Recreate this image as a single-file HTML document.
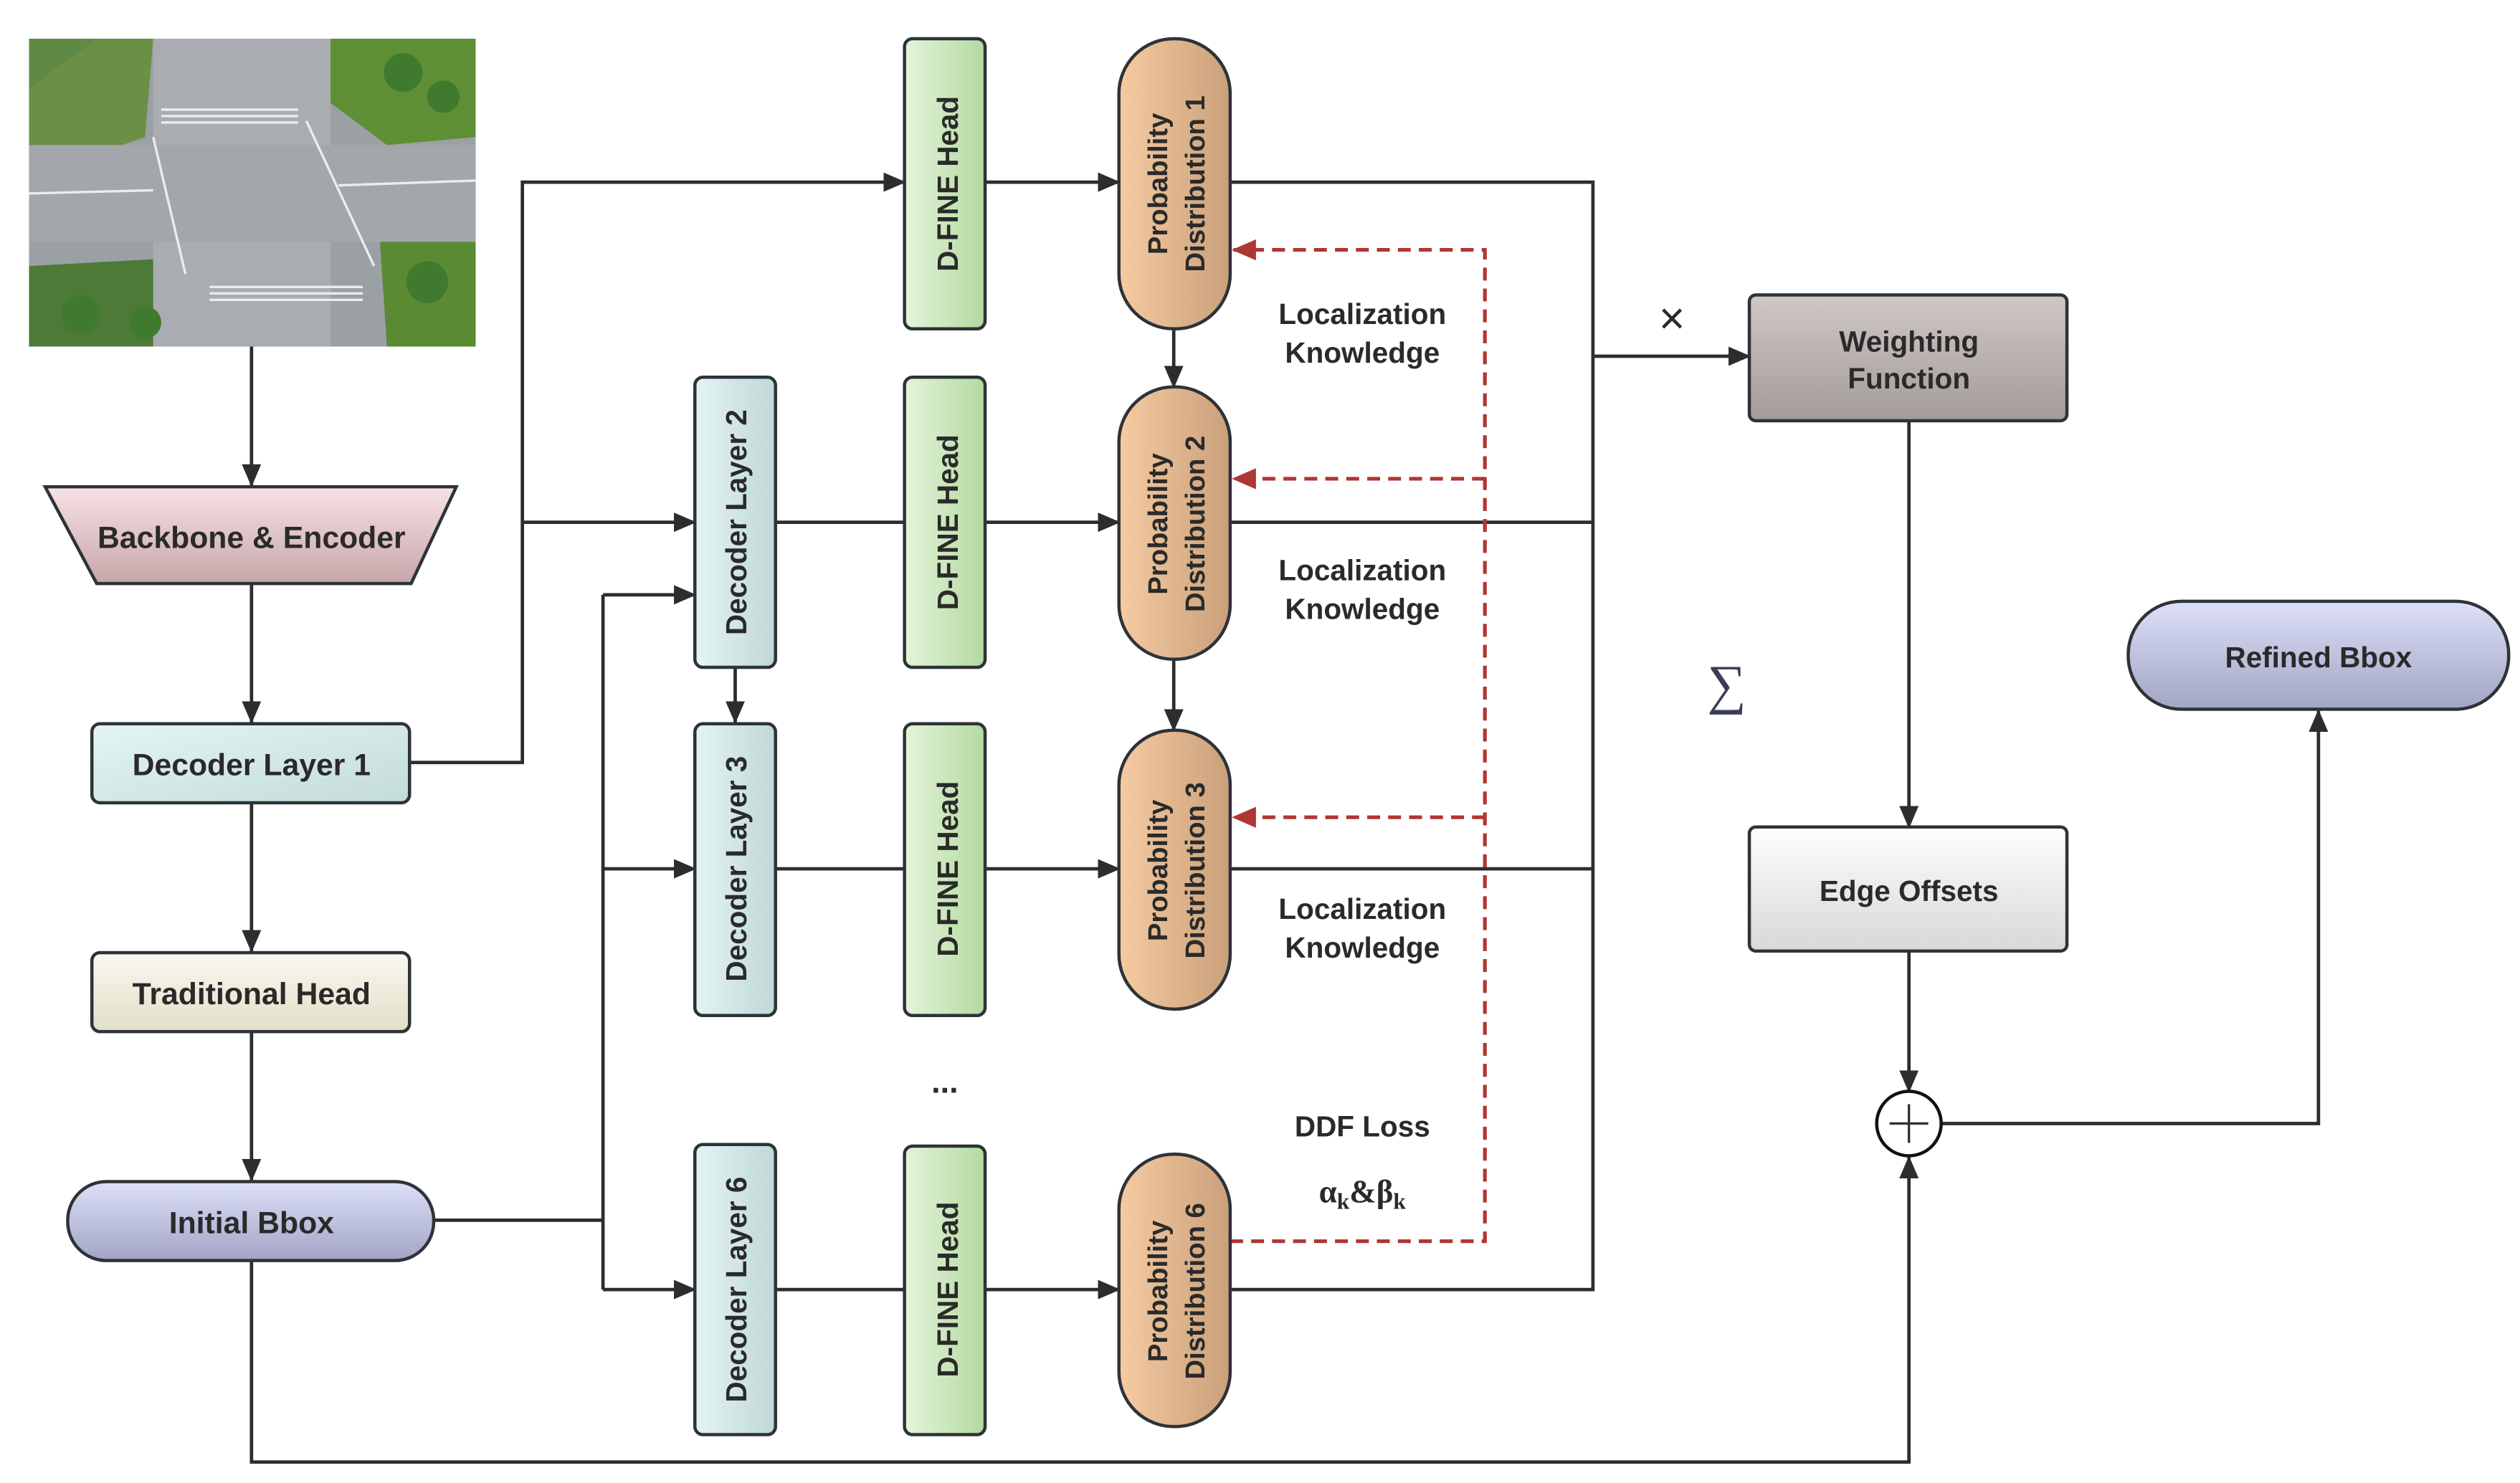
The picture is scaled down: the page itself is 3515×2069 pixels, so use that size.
<!DOCTYPE html>
<html><head><meta charset="utf-8"><style>
html,body{margin:0;padding:0;background:#fff;}
svg{display:block;}
text{font-family:"Liberation Sans",sans-serif;font-weight:bold;fill:#2a2a2a;}
</style></head><body>
<svg width="3515" height="2069" viewBox="0 0 1563 920" xmlns="http://www.w3.org/2000/svg">
<defs>
<marker id="a" markerWidth="14" markerHeight="12" refX="13" refY="6" orient="auto" markerUnits="userSpaceOnUse"><path d="M0,0 L14,6 L0,12 z" fill="#2d2d2d"/></marker>
<marker id="r" markerWidth="15" markerHeight="13" refX="14" refY="6.5" orient="auto" markerUnits="userSpaceOnUse"><path d="M0,0 L15,6.5 L0,13 z" fill="#b03535"/></marker>
<linearGradient id="pink" x1="0" y1="0" x2="0" y2="1"><stop offset="0" stop-color="#f8e2e5"/><stop offset="1" stop-color="#c6a6a9"/></linearGradient>
<linearGradient id="cyan" x1="0" y1="0" x2="1" y2="1"><stop offset="0" stop-color="#e4f5f4"/><stop offset="1" stop-color="#c3dbda"/></linearGradient>
<linearGradient id="cyanv" x1="0" y1="0" x2="1" y2="0"><stop offset="0" stop-color="#e4f5f4"/><stop offset="1" stop-color="#bfd7d6"/></linearGradient>
<linearGradient id="beige" x1="0" y1="0" x2="0" y2="1"><stop offset="0" stop-color="#f9f8ef"/><stop offset="1" stop-color="#e2dfc8"/></linearGradient>
<linearGradient id="lav" x1="0" y1="0" x2="0" y2="1"><stop offset="0" stop-color="#dde0f8"/><stop offset="1" stop-color="#a2a5c4"/></linearGradient>
<linearGradient id="green" x1="0" y1="0" x2="1" y2="0"><stop offset="0" stop-color="#e4f5da"/><stop offset="1" stop-color="#b3d9a0"/></linearGradient>
<linearGradient id="orange" x1="0" y1="0" x2="1" y2="0"><stop offset="0" stop-color="#f6cba2"/><stop offset="1" stop-color="#c9a07a"/></linearGradient>
<linearGradient id="gray" x1="0" y1="0" x2="0" y2="1"><stop offset="0" stop-color="#d0c8c5"/><stop offset="1" stop-color="#a39b99"/></linearGradient>
<linearGradient id="white" x1="0" y1="0" x2="0" y2="1"><stop offset="0" stop-color="#fdfdfd"/><stop offset="1" stop-color="#d8d8d8"/></linearGradient>
</defs>

<!-- photo approximation -->
<rect x="18" y="24" width="277" height="191" fill="#9ba0a5"/>
<polygon points="18,24 95,24 90,85 18,110" fill="#6a8f45"/>
<polygon points="18,24 60,24 18,55" fill="#5f8a45"/>
<polygon points="175,24 295,24 295,85 240,90 200,60" fill="#5e8f34"/>
<polygon points="235,140 295,130 295,215 240,215" fill="#5a8a32"/>
<polygon points="18,165 110,160 150,215 18,215" fill="#4d7a36"/>
<rect x="95" y="24" width="110" height="191" fill="#a9adb2"/>
<rect x="18" y="90" width="277" height="60" fill="#a3a7ab"/>
<g stroke="#ececec" stroke-width="1.5">
<line x1="100" y1="68" x2="185" y2="68"/><line x1="100" y1="72" x2="185" y2="72"/><line x1="100" y1="76" x2="185" y2="76"/>
<line x1="130" y1="178" x2="225" y2="178"/><line x1="130" y1="182" x2="225" y2="182"/><line x1="130" y1="186" x2="225" y2="186"/>
<line x1="95" y1="85" x2="115" y2="170"/><line x1="190" y1="75" x2="232" y2="165"/>
<line x1="18" y1="120" x2="95" y2="118"/><line x1="210" y1="115" x2="295" y2="112"/>
</g>
<g fill="#3f7a2e"><circle cx="250" cy="45" r="12"/><circle cx="275" cy="60" r="10"/><circle cx="265" cy="175" r="13"/><circle cx="50" cy="195" r="12"/><circle cx="90" cy="200" r="10"/></g>

<g stroke="#2d2d2d" stroke-width="2.1" fill="none">
<line x1="156" y1="215" x2="156" y2="301" marker-end="url(#a)"/>
<line x1="156" y1="362" x2="156" y2="448" marker-end="url(#a)"/>
<line x1="156" y1="498" x2="156" y2="590" marker-end="url(#a)"/>
<line x1="156" y1="640" x2="156" y2="732" marker-end="url(#a)"/>
<polyline points="254,473 324,473 324,113 561,113" marker-end="url(#a)"/>
<line x1="324" y1="324" x2="431" y2="324" marker-end="url(#a)"/>
<line x1="269" y1="757" x2="374" y2="757"/>
<line x1="374" y1="369" x2="374" y2="800"/>
<line x1="374" y1="369" x2="431" y2="369" marker-end="url(#a)"/>
<line x1="374" y1="539" x2="431" y2="539" marker-end="url(#a)"/>
<line x1="374" y1="800" x2="431" y2="800" marker-end="url(#a)"/>
<polyline points="156,782 156,907 1184,907 1184,718" marker-end="url(#a)"/>
<line x1="456" y1="414" x2="456" y2="448" marker-end="url(#a)"/>
<line x1="481" y1="324" x2="561" y2="324"/>
<line x1="481" y1="539" x2="561" y2="539"/>
<line x1="481" y1="800" x2="561" y2="800"/>
<line x1="611" y1="113" x2="694" y2="113" marker-end="url(#a)"/>
<line x1="611" y1="324" x2="694" y2="324" marker-end="url(#a)"/>
<line x1="611" y1="539" x2="694" y2="539" marker-end="url(#a)"/>
<line x1="611" y1="800" x2="694" y2="800" marker-end="url(#a)"/>
<line x1="728" y1="204" x2="728" y2="240" marker-end="url(#a)"/>
<line x1="728" y1="409" x2="728" y2="453" marker-end="url(#a)"/>
<polyline points="763,113 988,113 988,800 763,800"/>
<line x1="763" y1="324" x2="988" y2="324"/>
<line x1="763" y1="539" x2="988" y2="539"/>
<line x1="988" y1="221" x2="1085" y2="221" marker-end="url(#a)"/>
<line x1="1184" y1="261" x2="1184" y2="513" marker-end="url(#a)"/>
<line x1="1184" y1="590" x2="1184" y2="677" marker-end="url(#a)"/>
<polyline points="1204,697 1438,697 1438,441" marker-end="url(#a)"/>
</g>

<g stroke="#b03535" stroke-width="2.3" fill="none" stroke-dasharray="8,5">
<polyline points="763,770 921,770 921,155 765,155" marker-end="url(#r)"/>
<line x1="921" y1="297" x2="765" y2="297" marker-end="url(#r)"/>
<line x1="921" y1="507" x2="765" y2="507" marker-end="url(#r)"/>
</g>

<!-- nodes -->
<polygon points="28,302 283,302 255,362 60,362" fill="url(#pink)" stroke="#2d3338" stroke-width="2"/>
<text x="156" y="340" font-size="19" text-anchor="middle">Backbone &amp; Encoder</text>

<rect x="57" y="449" width="197" height="49" rx="5" fill="url(#cyan)" stroke="#2d3338" stroke-width="2"/>
<text x="156" y="481" font-size="19" text-anchor="middle">Decoder Layer 1</text>
<rect x="57" y="591" width="197" height="49" rx="5" fill="url(#beige)" stroke="#2d3338" stroke-width="2"/>
<text x="156" y="623" font-size="19" text-anchor="middle">Traditional Head</text>
<rect x="42" y="733" width="227" height="49" rx="24" fill="url(#lav)" stroke="#2d3338" stroke-width="2"/>
<text x="156" y="765" font-size="19" text-anchor="middle">Initial Bbox</text>

<g stroke="#2d3338" stroke-width="2">
<rect x="431" y="234" width="50" height="180" rx="5" fill="url(#cyanv)"/>
<rect x="431" y="449" width="50" height="181" rx="5" fill="url(#cyanv)"/>
<rect x="431" y="710" width="50" height="180" rx="5" fill="url(#cyanv)"/>
<rect x="561" y="24" width="50" height="180" rx="5" fill="url(#green)"/>
<rect x="561" y="234" width="50" height="180" rx="5" fill="url(#green)"/>
<rect x="561" y="449" width="50" height="181" rx="5" fill="url(#green)"/>
<rect x="561" y="711" width="50" height="179" rx="5" fill="url(#green)"/>
<rect x="694" y="24" width="69" height="180" rx="34" fill="url(#orange)"/>
<rect x="694" y="240" width="69" height="169" rx="34" fill="url(#orange)"/>
<rect x="694" y="453" width="69" height="173" rx="34" fill="url(#orange)"/>
<rect x="694" y="716" width="69" height="169" rx="34" fill="url(#orange)"/>
</g>
<g font-size="18" text-anchor="middle">
<text transform="translate(463,324) rotate(-90)">Decoder Layer 2</text>
<text transform="translate(463,539) rotate(-90)">Decoder Layer 3</text>
<text transform="translate(463,800) rotate(-90)">Decoder Layer 6</text>
<text transform="translate(594,114) rotate(-90)">D-FINE Head</text>
<text transform="translate(594,324) rotate(-90)">D-FINE Head</text>
<text transform="translate(594,539) rotate(-90)">D-FINE Head</text>
<text transform="translate(594,800) rotate(-90)">D-FINE Head</text>
</g>
<g font-size="17" text-anchor="middle">
<text transform="translate(724,114) rotate(-90)">Probability</text>
<text transform="translate(747,114) rotate(-90)">Distribution 1</text>
<text transform="translate(724,325) rotate(-90)">Probability</text>
<text transform="translate(747,325) rotate(-90)">Distribution 2</text>
<text transform="translate(724,540) rotate(-90)">Probability</text>
<text transform="translate(747,540) rotate(-90)">Distribution 3</text>
<text transform="translate(724,801) rotate(-90)">Probability</text>
<text transform="translate(747,801) rotate(-90)">Distribution 6</text>
</g>
<text x="586" y="678" font-size="20" text-anchor="middle">...</text>

<g font-size="18" text-anchor="middle">
<text x="845" y="201">Localization</text><text x="845" y="225">Knowledge</text>
<text x="845" y="360">Localization</text><text x="845" y="384">Knowledge</text>
<text x="845" y="570">Localization</text><text x="845" y="594">Knowledge</text>
<text x="845" y="705">DDF Loss</text>
</g>
<text x="845" y="746" font-size="20" text-anchor="middle" style="font-family:'Liberation Serif',serif;">α<tspan font-size="14" dy="4">k</tspan><tspan dy="-4">&amp;β</tspan><tspan font-size="14" dy="4">k</tspan></text>

<text x="1037" y="207" font-size="28" text-anchor="middle" style="font-weight:normal">×</text>
<text x="1071" y="436" font-size="34" text-anchor="middle" style="font-family:'Liberation Serif',serif;font-weight:normal;fill:#3a3d55">∑</text>

<rect x="1085" y="183" width="197" height="78" rx="4" fill="url(#gray)" stroke="#2d3338" stroke-width="2"/>
<text x="1184" y="218" font-size="18" text-anchor="middle">Weighting</text>
<text x="1184" y="241" font-size="18" text-anchor="middle">Function</text>
<rect x="1085" y="513" width="197" height="77" rx="4" fill="url(#white)" stroke="#2d3338" stroke-width="2"/>
<text x="1184" y="559" font-size="18" text-anchor="middle">Edge Offsets</text>
<circle cx="1184" cy="697" r="20" fill="#fff" stroke="#111" stroke-width="2"/>
<line x1="1172" y1="697" x2="1196" y2="697" stroke="#2d3338" stroke-width="1.5"/>
<line x1="1184" y1="685" x2="1184" y2="709" stroke="#2d3338" stroke-width="1.5"/>
<rect x="1320" y="373" width="236" height="67" rx="33" fill="url(#lav)" stroke="#2d3338" stroke-width="2"/>
<text x="1438" y="414" font-size="18" text-anchor="middle">Refined Bbox</text>
</svg>
</body></html>
